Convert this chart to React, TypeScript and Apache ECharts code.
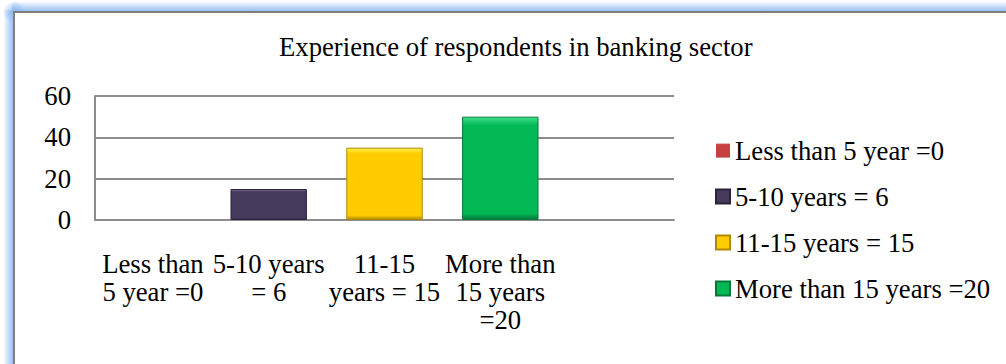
import React, { useEffect, useRef } from "react";
import * as echarts from "echarts";

const title = "Experience of respondents in banking sector";
const seriesNames = ["Less than 5 year =0", "5-10 years = 6", "11-15 years = 15", "More than 15 years =20"];
const axisLabels = ["Less than\n5 year =0", "5-10 years\n= 6", "11-15\nyears = 15", "More than\n15 years\n=20", ""];
const values = [0, 15, 35, 50];
const colors = ["#c8403f", "#463a5c", "#ffcc00", "#03b955"];
const lightColors = ["#e07070", "#7a6c92", "#fff04a", "#3fe08a"];
const darkColors = ["#8a2a2a", "#2c2339", "#b08800", "#03783a"];
const yTicks = { min: 0, max: 60, interval: 20 };

const FONT = "'Liberation Serif', 'Times New Roman', serif";
const FS = 26.7;

export default function App() {
  const ref = useRef<HTMLDivElement>(null);
  useEffect(() => {
    if (!ref.current) return;
    const chart = echarts.init(ref.current, null, { renderer: "svg" });
    const series = seriesNames.map((name, i) => ({
      name,
      type: "bar",
      stack: "all",
      barCategoryGap: "34%",
      data: axisLabels.map((_, j) => (j === i ? values[i] : null)),
      emphasis: { disabled: true },
      itemStyle: {
        color: new echarts.graphic.LinearGradient(0, 0, 0, 1, [
          { offset: 0, color: lightColors[i] },
          { offset: 0.08, color: colors[i] },
          { offset: 0.94, color: colors[i] },
          { offset: 1, color: darkColors[i] },
        ]),
        borderColor: darkColors[i],
        borderWidth: values[i] === 0 ? 0 : 1,
      },
    }));
    const glow = "#8fbaf0";
    chart.setOption({
      animation: false,
      backgroundColor: "#ffffff",
      graphic: [
        {
          type: "rect",
          z: -20,
          silent: true,
          shape: { x: 12, y: 1, width: 1000, height: 11 },
          style: {
            fill: new echarts.graphic.LinearGradient(0, 0, 0, 1, [
              { offset: 0, color: "rgba(143,186,240,0)" },
              { offset: 1, color: glow },
            ]),
          },
        },
        {
          type: "rect",
          z: -20,
          silent: true,
          shape: { x: 3, y: 10, width: 11, height: 360 },
          style: {
            fill: new echarts.graphic.LinearGradient(0, 0, 1, 0, [
              { offset: 0, color: "rgba(143,186,240,0)" },
              { offset: 1, color: glow },
            ]),
          },
        },
        {
          type: "circle",
          z: -21,
          silent: true,
          shape: { cx: 14, cy: 12, r: 11 },
          style: {
            fill: new echarts.graphic.RadialGradient(0.5, 0.5, 0.5, [
              { offset: 0, color: glow },
              { offset: 1, color: "rgba(143,186,240,0)" },
            ]),
          },
        },
        {
          type: "rect",
          z: -10,
          silent: true,
          shape: { x: 14, y: 12, width: 1100, height: 500 },
          style: { fill: "#ffffff", stroke: "#7f7f7f", lineWidth: 2 },
        },
      ],
      title: {
        text: title,
        left: 279,
        top: 33,
        padding: 0,
        textStyle: { fontFamily: FONT, fontSize: FS, fontWeight: "normal", color: "#000" },
      },
      legend: {
        orient: "vertical",
        left: 715,
        top: 137,
        padding: 0,
        itemWidth: 14,
        itemHeight: 14,
        itemGap: 19,
        icon: "rect",
        data: seriesNames,
        textStyle: { fontFamily: FONT, fontSize: FS, color: "#000", lineHeight: 26 },
      },
      grid: { left: 95, right: 332, top: 96, bottom: 144, containLabel: false },
      xAxis: {
        type: "category",
        data: axisLabels,
        axisLine: { lineStyle: { color: "#8c8c8c", width: 2 } },
        axisTick: { show: false },
        axisLabel: {
          fontFamily: FONT,
          fontSize: FS,
          lineHeight: 28,
          color: "#000",
          margin: 30,
          interval: 0,
          align: "center",
        },
      },
      yAxis: {
        type: "value",
        min: yTicks.min,
        max: yTicks.max,
        interval: yTicks.interval,
        axisLine: { show: true, lineStyle: { color: "#8c8c8c", width: 2 } },
        axisTick: { show: false },
        splitLine: { lineStyle: { color: "#8c8c8c", width: 2 } },
        axisLabel: { fontFamily: FONT, fontSize: FS, color: "#000", margin: 24 },
      },
      series,
    });
    return () => chart.dispose();
  }, []);
  return (
    <div
      ref={ref}
      style={{ position: "fixed", left: 0, top: 0, width: 1006, height: 364, background: "#fff" }}
    />
  );
}
